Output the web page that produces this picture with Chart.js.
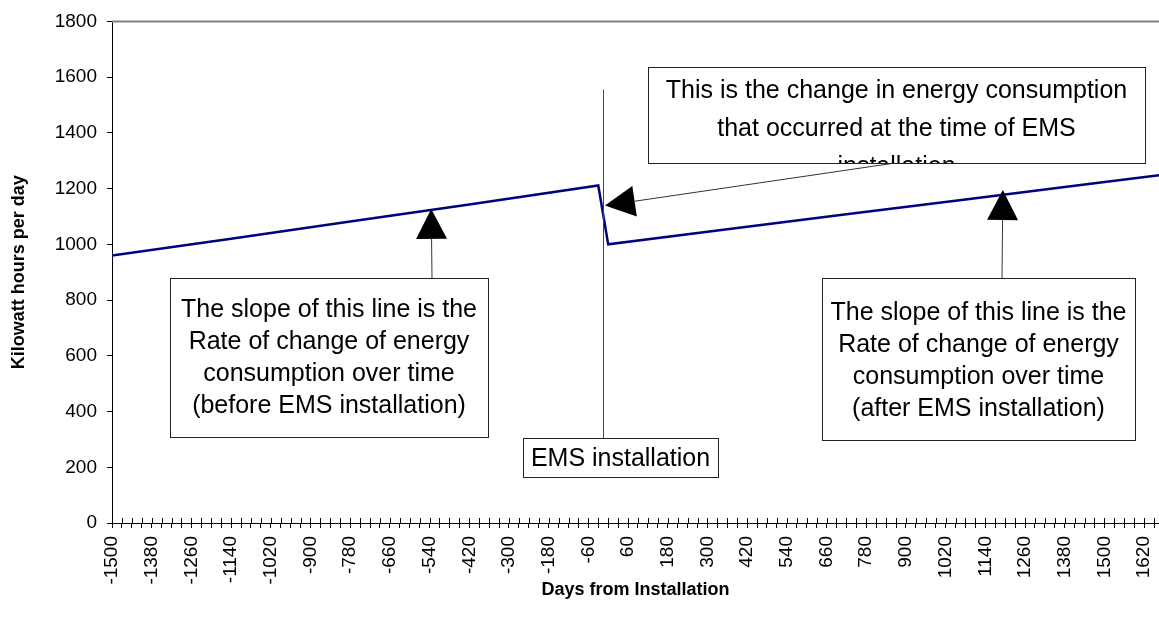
<!DOCTYPE html>
<html lang="en">

<head>
    <meta charset="UTF-8">
    <title>EMS installation</title>
    <style>
        html, body { margin: 0; padding: 0; background: #fff; }
        .chart-con { width: 1159px; height: 628px; }
    </style>
</head>

<body>
    <div class="chart-con">
        <canvas id="ems"></canvas>
    </div>
    <script src="https://cdn.jsdelivr.net/npm/chart.js"></script>
    <script>
        // data
        const days = [-1500, -1140, -780, -420, -30, 0, 360, 720, 1080, 1440, 1680];
        const kwh = [960, 1020, 1082, 1143, 1211, 1000, 1054, 1108, 1161, 1215, 1250];
        const yTicks = [0, 200, 400, 600, 800, 1000, 1200, 1400, 1600, 1800];
        const xLabelStep = 120; // a label every 120 days, a tick every 30

        const FONT = '"Liberation Sans", Arial, sans-serif';

        // text boxes (pixels) and arrows (tips in data units)
        const boxes = [
            { x: 170, y: 278, w: 318, h: 159, lines: ['The slope of this line is the', 'Rate of change of energy', 'consumption over time', '(before EMS installation)'], first: 310, gap: 32 },
            { x: 822, y: 278, w: 313, h: 162, lines: ['The slope of this line is the', 'Rate of change of energy', 'consumption over time', '(after EMS installation)'], first: 313, gap: 32 },
            { x: 648, y: 67, w: 497, h: 96, lines: ['This is the change in energy consumption', 'that occurred at the time of EMS', 'installation'], first: 91, gap: 38 },
            { x: 523, y: 438, w: 195, h: 39, lines: ['EMS installation'], first: 459, gap: 32 }
        ];
        const arrows = [
            { from: [432, 278], tip: [-535, 1127] },
            { from: [1002, 278], tip: [1193, 1195] },
            { from: [895, 163], tip: [-10, 1139] }
        ];
        const emsDay = -15;

        const notes = {
            id: 'notes',
            afterDatasetsDraw(chart) {
                const { ctx, chartArea, scales: { x, y } } = chart;
                ctx.save();
                // top border of the plot area
                ctx.strokeStyle = '#808080';
                ctx.lineWidth = 2;
                ctx.beginPath();
                ctx.moveTo(chartArea.left, chartArea.top);
                ctx.lineTo(chartArea.right, chartArea.top);
                ctx.stroke();
                // x ticks cross the axis: inner half
                ctx.strokeStyle = '#000';
                ctx.lineWidth = 1;
                x.ticks.forEach((t, i) => {
                    const px = Math.round(x.getPixelForTick(i)) + 0.5;
                    ctx.beginPath();
                    ctx.moveTo(px, chartArea.bottom - 5);
                    ctx.lineTo(px, chartArea.bottom);
                    ctx.stroke();
                });
                // EMS vertical line
                const vx = Math.round(x.getPixelForValue(emsDay)) + 0.5;
                ctx.strokeStyle = '#444';
                ctx.beginPath();
                ctx.moveTo(vx, y.getPixelForValue(1555));
                ctx.lineTo(vx, boxes[3].y);
                ctx.stroke();
                // arrows
                arrows.forEach(a => {
                    const tx = x.getPixelForValue(a.tip[0]);
                    const ty = y.getPixelForValue(a.tip[1]);
                    const [fx, fy] = a.from;
                    const len = Math.hypot(tx - fx, ty - fy);
                    const ux = (tx - fx) / len, uy = (ty - fy) / len;
                    const bx = tx - ux * 30, by = ty - uy * 30;
                    ctx.strokeStyle = '#333';
                    ctx.lineWidth = 1;
                    ctx.beginPath();
                    ctx.moveTo(fx, fy);
                    ctx.lineTo(bx, by);
                    ctx.stroke();
                    ctx.fillStyle = '#000';
                    ctx.beginPath();
                    ctx.moveTo(tx, ty);
                    ctx.lineTo(bx - uy * 15.5, by + ux * 15.5);
                    ctx.lineTo(bx + uy * 15.5, by - ux * 15.5);
                    ctx.closePath();
                    ctx.fill();
                });
                // boxes
                boxes.forEach(b => {
                    ctx.fillStyle = '#fff';
                    ctx.fillRect(b.x, b.y, b.w, b.h);
                    ctx.save();
                    ctx.beginPath();
                    ctx.rect(b.x, b.y, b.w, b.h);
                    ctx.clip();
                    ctx.fillStyle = '#000';
                    ctx.font = '25px ' + FONT;
                    ctx.textAlign = 'center';
                    ctx.textBaseline = 'middle';
                    b.lines.forEach((t, i) => ctx.fillText(t, b.x + b.w / 2, b.first + i * b.gap));
                    ctx.restore();
                    ctx.strokeStyle = '#222';
                    ctx.lineWidth = 1;
                    ctx.strokeRect(b.x + 0.5, b.y + 0.5, b.w, b.h);
                });
                ctx.restore();
            }
        };

        const ems = document.getElementById('ems');
        new Chart(ems, {
            type: 'line',
            data: {
                datasets: [
                    {
                        label: 'Kilowatt hours per day',
                        data: days.map((d, i) => ({ x: d, y: kwh[i] })),
                        borderColor: '#000080',
                        borderWidth: 2.5,
                        pointRadius: 0,
                        tension: 0
                    }
                ]
            },
            options: {
                responsive: true,
                maintainAspectRatio: false,
                animation: false,
                layout: {
                    padding: { top: 19, left: 0, right: 0, bottom: 0 }
                },
                plugins: {
                    legend: { display: false },
                    tooltip: { enabled: false }
                },
                scales: {
                    x: {
                        type: 'linear',
                        min: -1500,
                        max: 1665,
                        afterFit: (scale) => {
                            scale.height = 105;
                            // plot runs off the right edge like the original
                            scale.paddingLeft = 0;
                            scale.paddingRight = 0;
                        },
                        border: { color: '#000', width: 1 },
                        grid: {
                            drawOnChartArea: false,
                            color: '#000',
                            tickLength: 5
                        },
                        title: {
                            display: true,
                            text: 'Days from Installation',
                            color: '#000',
                            font: { size: 18, weight: 'bold', family: FONT },
                            padding: { top: 4, bottom: 27 }
                        },
                        ticks: {
                            stepSize: 30,
                            includeBounds: false,
                            autoSkip: false,
                            minRotation: 90,
                            maxRotation: 90,
                            padding: 8,
                            color: '#000',
                            font: { size: 19, family: FONT },
                            callback: (value) => ((value + 1500) % xLabelStep === 0 ? String(value) : '')
                        }
                    },
                    y: {
                        min: yTicks[0],
                        max: yTicks[yTicks.length - 1],
                        afterFit: (scale) => { scale.width = 112; },
                        afterBuildTicks: (scale) => { scale.ticks = yTicks.map(v => ({ value: v })); },
                        border: { color: '#000', width: 1 },
                        grid: {
                            drawOnChartArea: false,
                            color: '#000',
                            tickLength: 5
                        },
                        title: {
                            display: true,
                            text: 'Kilowatt hours per day',
                            color: '#000',
                            font: { size: 18, weight: 'bold', family: FONT },
                            padding: { top: 8, bottom: 0 }
                        },
                        ticks: {
                            padding: 10,
                            color: '#000',
                            font: { size: 19, family: FONT },
                            callback: (value) => String(value)
                        }
                    }
                }
            },
            plugins: [notes]
        });
    </script>
</body>

</html>
